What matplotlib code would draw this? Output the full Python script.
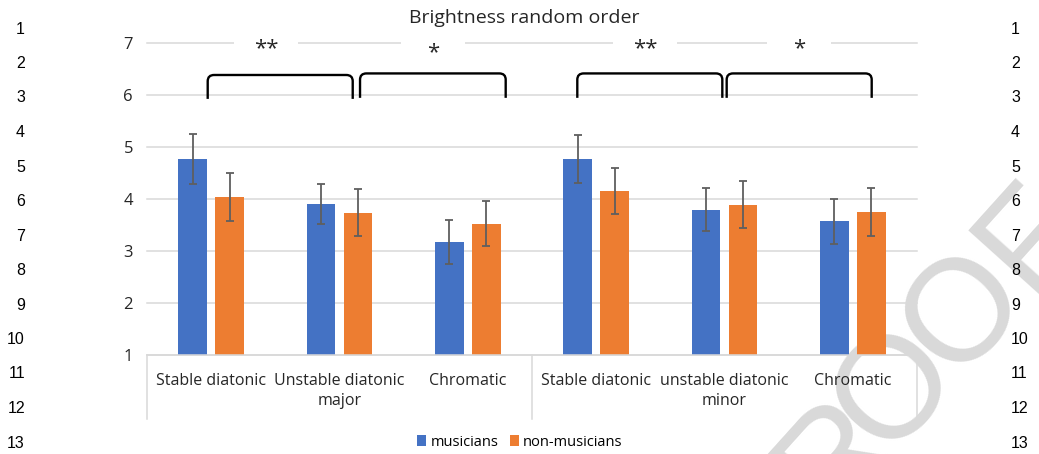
import numpy as np
import matplotlib.pyplot as plt
from matplotlib.path import Path
from matplotlib.patches import PathPatch, Rectangle
import matplotlib.transforms as mtransforms

categories = ['Stable diatonic', 'Unstable diatonic', 'Chromatic',
              'Stable diatonic', 'unstable diatonic', 'Chromatic']
groups = ['major', 'minor']
musicians = [4.77, 3.91, 3.17, 4.77, 3.80, 3.57]
musicians_err = [0.48, 0.39, 0.42, 0.46, 0.42, 0.44]
non_musicians = [4.04, 3.74, 3.53, 4.16, 3.89, 3.75]
non_musicians_err = [0.46, 0.45, 0.44, 0.44, 0.45, 0.46]
stars = ['**', '*', '**', '*']
line_numbers = list(range(1, 14))

BLUE = '#4472C4'
ORANGE = '#ED7D31'
GRID = '#d9d9d9'
TXT = '#262626'
FONT = 'Open Sans'


def bracket(ax, x0, x1, y0, y1):
    rx, ry = 0.05, 0.12
    verts = [(x0, y0), (x0, y1 - ry), (x0, y1), (x0 + rx, y1),
             (x1 - rx, y1), (x1, y1), (x1, y1 - ry), (x1, y0)]
    codes = [Path.MOVETO, Path.LINETO, Path.CURVE3, Path.CURVE3,
             Path.LINETO, Path.CURVE3, Path.CURVE3, Path.LINETO]
    ax.add_patch(PathPatch(Path(verts, codes), fill=False, ec='black',
                           lw=1.7, clip_on=False, zorder=4))


fig = plt.figure(figsize=(10.39, 4.54), dpi=100)
fig.patch.set_facecolor('white')
ax = fig.add_axes([147 / 1039, 1 - 355 / 454, 770 / 1039, (355 - 43.3) / 454])
ax.set_facecolor('none')

x = np.arange(len(categories)) + 0.5
w = 0.225
off = 0.144
ekw = dict(ecolor='#5f5f5f', elinewidth=1.3, capsize=3, capthick=1.3)
ax.bar(x - off, musicians, w, bottom=0, color=BLUE, label='musicians',
       yerr=musicians_err, error_kw=ekw, zorder=2)
ax.bar(x + off, non_musicians, w, bottom=0, color=ORANGE, label='non-musicians',
       yerr=non_musicians_err, error_kw=ekw, zorder=2)

ax.set_xlim(0, 6)
ax.set_ylim(1, 7)
ax.set_yticks(range(1, 8))
ax.set_yticklabels([str(v) for v in range(1, 8)], fontsize=12, color=TXT, family=FONT)
ax.tick_params(axis='y', length=0, pad=10)
ax.set_xticks([])
ax.yaxis.grid(True, color=GRID, lw=1.1)
for gl in ax.get_ygridlines():
    gl.set_clip_on(False)
ax.set_axisbelow(True)
for s in ['left', 'right', 'top']:
    ax.spines[s].set_visible(False)
ax.spines['bottom'].set_color(GRID)
ax.spines['bottom'].set_linewidth(1.1)

# multi-level category axis
trans = mtransforms.blended_transform_factory(ax.transData, ax.transAxes)
for xv in [0, 3, 6]:
    ax.plot([xv, xv], [0, -0.205], color=GRID, lw=1.1, transform=trans, clip_on=False)
for xi, lab in zip(x, categories):
    ax.text(xi, -0.082, lab, transform=trans, ha='center', va='center',
            fontsize=11.5, color=TXT, family=FONT)
for gi, g in enumerate(groups):
    ax.text(1.5 + 3 * gi, -0.148, g, transform=trans, ha='center', va='center',
            fontsize=11.5, color=TXT, family=FONT)

# significance brackets
bracket(ax, 0.473, 1.603, 5.93, 6.39)
bracket(ax, 1.66, 2.795, 5.95, 6.42)
bracket(ax, 3.353, 4.483, 5.95, 6.42)
bracket(ax, 4.517, 5.647, 5.95, 6.42)
for sx, sy, st in zip([0.93, 2.23, 3.88, 5.08], [6.9, 6.82, 6.9, 6.9], stars):
    ax.add_patch(Rectangle((sx - 0.25, 6.95), 0.5, 0.1, fc='white', ec='none',
                           zorder=3, clip_on=False))
    ax.text(sx, sy, st, ha='center', va='center', fontsize=16, color=TXT,
            family=FONT, zorder=4)

fig.text(524 / 1039, 1 - 18 / 454, 'Brightness random order', ha='center', va='center',
         fontsize=14, color=TXT, family=FONT)

handles, labels = ax.get_legend_handles_labels()
fig.legend(handles, labels, loc='center', bbox_to_anchor=(520 / 1039, 1 - 442 / 454),
           ncol=2, frameon=False, handlelength=0.6, handleheight=0.7, handletextpad=0.3,
           columnspacing=0.8, prop={'family': FONT, 'size': 10.5})

# proof line numbers
for i, n in enumerate(line_numbers):
    yy = 1 - (29 + 34.5 * i) / 454
    fig.text(25 / 1039, yy, str(n), ha='right', va='center', fontsize=11.5,
             family='Liberation Sans', color='black')
    fig.text(1011 / 1039, yy, str(n), ha='left', va='center', fontsize=11.5,
             family='Liberation Sans', color='black')

# PROOF watermark, letter by letter along a 48 degree line
ang = np.deg2rad(48)
d = np.array([np.cos(ang), -np.sin(ang)])
o1 = np.array([896.0, 390.0])
for ch, step in zip('PROOF', [-182, -90, 0, 103, 203]):
    px, py = o1 + step * d
    fig.text(px / 1039, 1 - py / 454, ch, rotation=48, rotation_mode='anchor',
             ha='center', va='center', fontsize=104, color='#d9d9d9',
             family='Liberation Sans', zorder=-1)

fig.savefig('out.png', dpi=100)
